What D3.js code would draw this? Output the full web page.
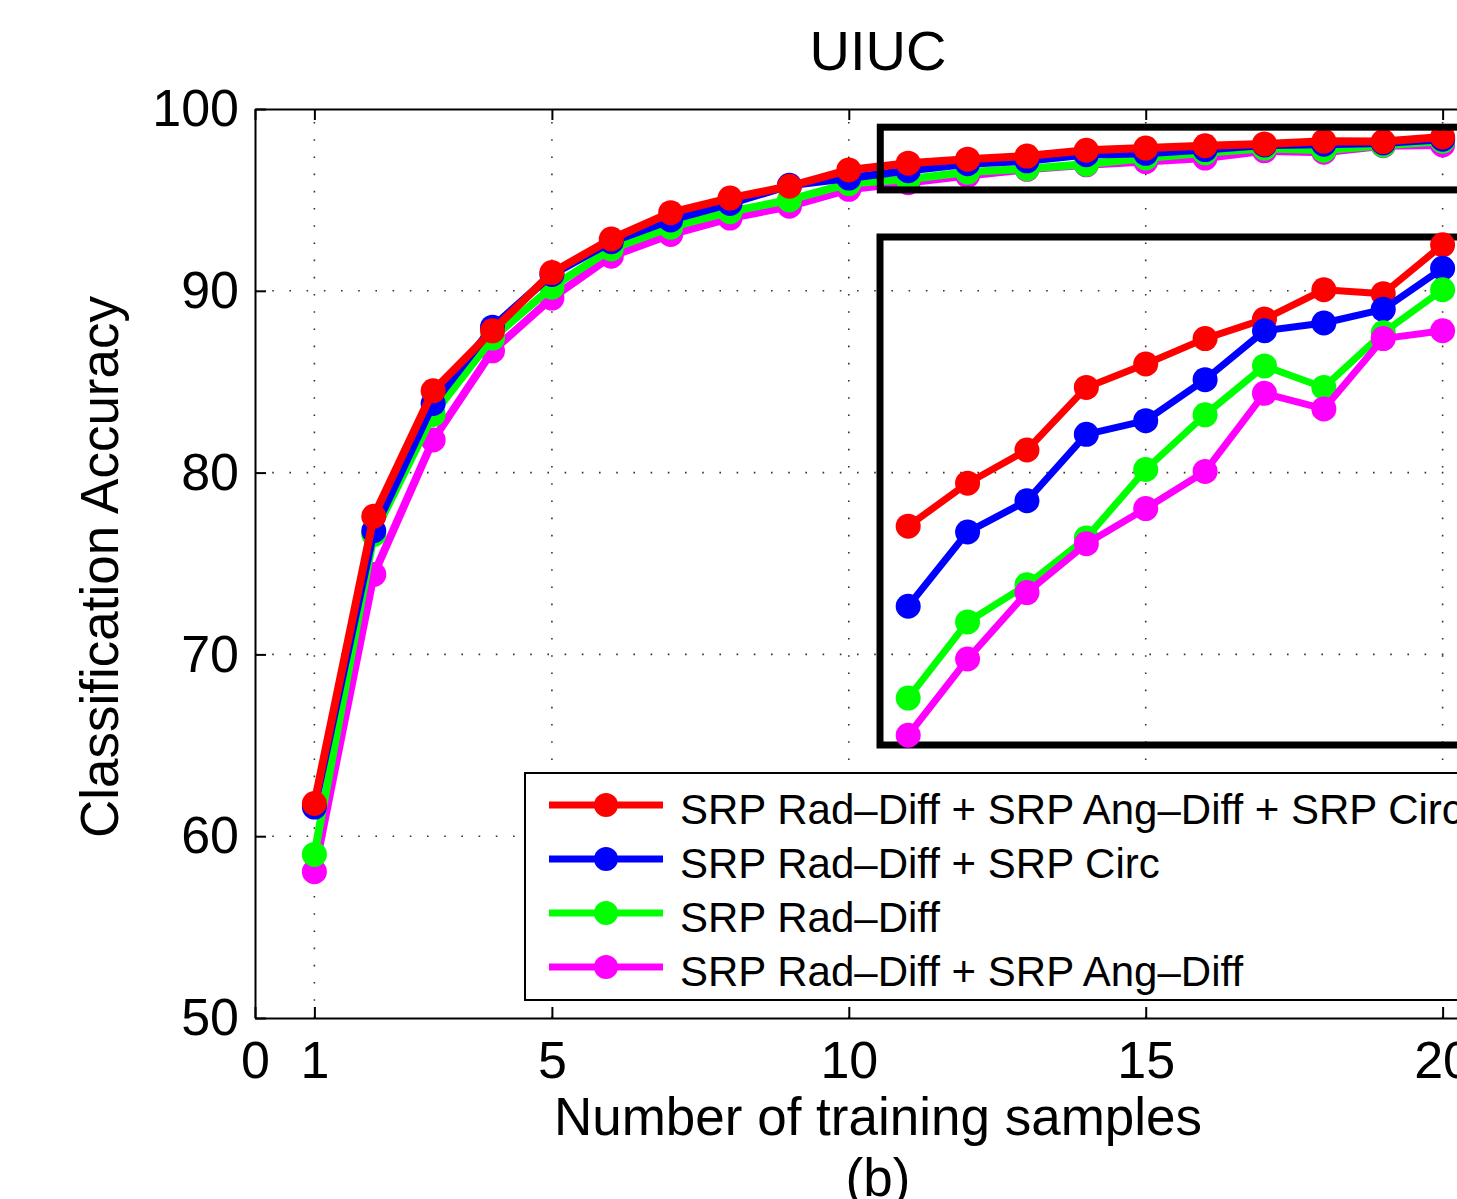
<!DOCTYPE html>
<html lang="en">
<head>
    <meta charset="UTF-8">
    <title>UIUC - Classification Accuracy</title>
    <script src="https://d3js.org/d3.v7.min.js"></script>
    <style>
        body {
            margin: 0;
            background: #fff;
        }

        svg text {
            font-family: 'Liberation Sans', Arial, Helvetica, sans-serif;
            fill: #000;
        }

        .axis path,
        .axis line {
            stroke: #000;
            stroke-width: 2;
            fill: none;
        }

        .grid line {
            stroke: #333;
            stroke-width: 1.6;
            stroke-dasharray: 1.6 15.6;
        }
    </style>
</head>
<body>
    <svg width="1457" height="1199"></svg>

    <script>
        // samples on the x axis
        const samples = d3.range(1, 21);

        // accuracy per method
        const radAngCirc = [61.8, 77.6, 84.5, 87.8, 91.0, 92.85, 94.3, 95.1, 95.75, 96.65,
                            97.02, 97.24, 97.41, 97.73, 97.85, 97.98, 98.08, 98.23, 98.21, 98.46];
        const radCirc    = [61.6, 76.8, 83.8, 88.0, 90.9, 92.7, 93.9, 94.8, 95.8, 96.2,
                            96.61, 96.99, 97.15, 97.49, 97.56, 97.77, 98.02, 98.06, 98.13, 98.34];
        const radOnly    = [59.0, 76.6, 83.2, 87.4, 90.2, 92.3, 93.5, 94.35, 95.0, 95.9,
                            96.14, 96.53, 96.72, 96.96, 97.31, 97.59, 97.84, 97.73, 98.01, 98.23];
        const radAng     = [58.05, 74.4, 81.8, 86.7, 89.6, 91.9, 93.1, 94.0, 94.65, 95.58,
                            95.95, 96.34, 96.68, 96.93, 97.11, 97.30, 97.70, 97.62, 97.98, 98.02];

        const seriesNames = [
            'SRP Rad\u2013Diff + SRP Ang\u2013Diff + SRP Circ',
            'SRP Rad\u2013Diff + SRP Circ',
            'SRP Rad\u2013Diff',
            'SRP Rad\u2013Diff + SRP Ang\u2013Diff'
        ];
        const seriesColors = ['#ff0000', '#0000ff', '#00ff00', '#ff00ff'];

        const xTicks = [0, 1, 5, 10, 15, 20];
        const yTicks = [50, 60, 70, 80, 90, 100];
        const insetFrom = 11;   // inset shows samples 11..20

        const series = [radAngCirc, radCirc, radOnly, radAng].map((vals, i) => ({
            name: seriesNames[i],
            color: seriesColors[i],
            values: vals.map((v, j) => ({ n: samples[j], acc: v }))
        }));

        const svg = d3.select('svg');
        const plot = { left: 255, right: 1502, top: 109, bottom: 1018 };

        const x = d3.scaleLinear().domain([0, 21]).range([plot.left, plot.right]);
        const y = d3.scaleLinear().domain([50, 100]).range([plot.bottom, plot.top]);

        // inset (magnified top region), same x scale
        const inset = { left: 880, right: 1520, top: 237, bottom: 745 };
        const yIn = d3.scaleLinear().domain([95.9, 98.5]).range([inset.bottom, inset.top]);

        // grid
        const grid = svg.append('g').attr('class', 'grid');
        grid.selectAll('.vg')
            .data(xTicks.filter(d => d > 0))
            .enter().append('line')
            .attr('x1', d => x(d)).attr('x2', d => x(d))
            .attr('y1', plot.bottom).attr('y2', plot.top);
        grid.selectAll('.hg')
            .data(yTicks.filter(d => d > 50 && d < 100))
            .enter().append('line')
            .attr('x1', plot.left).attr('x2', plot.right)
            .attr('y1', d => y(d)).attr('y2', d => y(d));

        // axes
        svg.append('g')
            .attr('class', 'axis')
            .attr('transform', `translate(0,${plot.bottom})`)
            .call(d3.axisBottom(x).tickValues(xTicks).tickSizeInner(-11).tickSizeOuter(0).tickPadding(23))
            .call(g => g.selectAll('text').style('font-size', '52px'));

        svg.append('g')
            .attr('class', 'axis')
            .attr('transform', `translate(0,${plot.top})`)
            .call(d3.axisTop(x).tickValues(xTicks).tickSizeInner(-11).tickSizeOuter(0).tickFormat(''));

        svg.append('g')
            .attr('class', 'axis')
            .attr('transform', `translate(${plot.left},0)`)
            .call(d3.axisLeft(y).tickValues(yTicks).tickSizeInner(-11).tickSizeOuter(0).tickPadding(16))
            .call(g => g.selectAll('text').style('font-size', '52px'));

        // main lines, first series drawn on top
        const line = d3.line().x(d => x(d.n)).y(d => y(d.acc));
        const mainG = svg.append('g');
        series.slice().reverse().forEach(s => {
            const g = mainG.append('g');
            g.append('path')
                .attr('d', line(s.values))
                .attr('fill', 'none')
                .attr('stroke', s.color)
                .attr('stroke-width', 8)
                .attr('stroke-linejoin', 'round');
            g.selectAll('circle')
                .data(s.values)
                .enter().append('circle')
                .attr('cx', d => x(d.n))
                .attr('cy', d => y(d.acc))
                .attr('r', 12.5)
                .attr('fill', s.color);
        });

        // zoom marker box and inset frame
        svg.append('rect')
            .attr('x', x(10.53)).attr('y', y(99.0))
            .attr('width', 700).attr('height', y(95.55) - y(99.0))
            .attr('fill', 'none').attr('stroke', '#000').attr('stroke-width', 7);
        svg.append('rect')
            .attr('x', inset.left).attr('y', inset.top)
            .attr('width', inset.right - inset.left).attr('height', inset.bottom - inset.top)
            .attr('fill', 'none').attr('stroke', '#000').attr('stroke-width', 7);

        // inset lines
        const lineIn = d3.line().x(d => x(d.n)).y(d => yIn(d.acc));
        const insetG = svg.append('g');
        series.forEach(s => {
            const pts = s.values.filter(d => d.n >= insetFrom);
            const g = insetG.append('g');
            g.append('path')
                .attr('d', lineIn(pts))
                .attr('fill', 'none')
                .attr('stroke', s.color)
                .attr('stroke-width', 7)
                .attr('stroke-linejoin', 'round');
            g.selectAll('circle')
                .data(pts)
                .enter().append('circle')
                .attr('cx', d => x(d.n))
                .attr('cy', d => yIn(d.acc))
                .attr('r', 12.5)
                .attr('fill', s.color);
        });

        // legend
        const legend = svg.append('g').attr('transform', 'translate(525,773)');
        legend.append('rect')
            .attr('width', 980).attr('height', 227)
            .attr('fill', '#fff').attr('stroke', '#000').attr('stroke-width', 2);
        const rows = legend.selectAll('.row')
            .data(series)
            .enter().append('g')
            .attr('transform', (d, i) => `translate(0,${32 + i * 54})`);
        rows.append('line')
            .attr('x1', 24).attr('x2', 138)
            .attr('stroke', d => d.color).attr('stroke-width', 7);
        rows.append('circle')
            .attr('cx', 81).attr('r', 12)
            .attr('fill', d => d.color);
        rows.append('text')
            .attr('x', 155).attr('y', 19)
            .style('font-size', '42px')
            .text(d => d.name);

        // titles
        svg.append('text')
            .attr('x', 878).attr('y', 70)
            .attr('text-anchor', 'middle')
            .style('font-size', '56px')
            .text('UIUC');

        svg.append('text')
            .attr('x', 878).attr('y', 1135)
            .attr('text-anchor', 'middle')
            .style('font-size', '53px')
            .text('Number of training samples');

        svg.append('text')
            .attr('x', 878).attr('y', 1196)
            .attr('text-anchor', 'middle')
            .style('font-size', '53px')
            .text('(b)');

        svg.append('text')
            .attr('transform', 'translate(118,567) rotate(-90)')
            .attr('text-anchor', 'middle')
            .style('font-size', '53px')
            .text('Classification Accuracy');
    </script>
</body>
</html>
